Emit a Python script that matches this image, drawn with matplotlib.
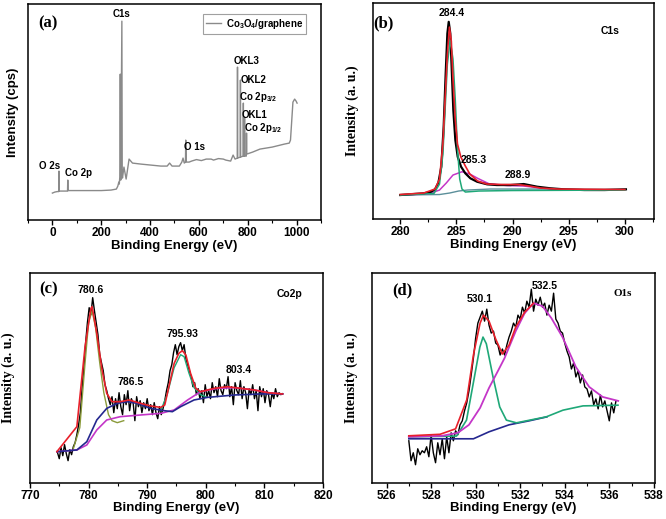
import numpy as np
import matplotlib
matplotlib.use("Agg")
import matplotlib.pyplot as plt
from matplotlib.ticker import MultipleLocator

plt.rcParams['font.family'] = ['Liberation Sans', 'DejaVu Sans']
plt.rcParams['mathtext.fontset'] = 'custom'
plt.rcParams['mathtext.bf'] = 'Liberation Sans:bold'
plt.rcParams['mathtext.rm'] = 'Liberation Sans:bold'
plt.rcParams['mathtext.default'] = 'bf'

# ---------------- (a) survey spectrum ----------------
a_energy = [0, 10, 20, 26, 27, 28, 50, 62, 63, 64, 100, 150, 200, 240, 262, 268, 272, 274, 276,
            278, 280, 284.5, 286, 287, 293, 302, 314, 328, 362, 403, 444, 470, 480, 490, 520,
            530, 535, 540, 545, 546, 548, 560, 570, 590, 600, 610, 630, 650, 660, 680, 700,
            710, 730, 740, 748, 757, 758, 759, 769, 770, 771, 781, 782, 783, 786, 787, 788,
            794, 795, 796, 820, 850, 900, 950, 970, 975, 985, 992, 998, 1002]
a_counts = [27, 28, 28.5, 28.5, 49, 29, 29, 29, 40, 29.5, 29.5, 29.5, 29.5, 30, 31, 34, 38, 36, 43,
            146, 40, 199, 45, 42, 53, 41, 61, 57, 56, 55, 54, 54, 57, 54, 54,
            58, 62, 57, 58, 80, 58, 58, 59, 60.5, 60, 59.5, 61, 61, 60, 61.5, 61,
            60, 59, 65, 61, 62, 153, 62, 63, 140, 63, 64, 117, 64, 64, 103, 64,
            64, 87, 66, 68, 71, 73, 76, 77, 80, 118, 121, 119, 117]

# ---------------- (b) C1s ----------------
b_energy = [280.0, 282.1, 282.7, 283.1, 283.4, 283.66, 283.87, 284.05, 284.2, 284.32, 284.46,
            284.58, 284.73, 284.91, 285.12, 285.42, 285.8, 286.25, 286.85, 287.74, 288.6,
            289.8, 291.0, 292.2, 293.4, 294.6, 296.4, 298.2, 300.1]
b_counts = [24, 25.7, 27, 29.7, 36.3, 52.3, 92.3, 145.7, 185.7, 197.3, 185.7,
            152.3, 109, 79, 62.3, 52.3, 45.7, 40.7, 37.3, 34.7, 34,
            34, 35, 32.3, 30.7, 29.7, 29, 29, 29.7]
b_fit_e = [280.0, 282.1, 283.1, 283.5, 283.8, 284.0, 284.2, 284.38, 284.55, 284.7, 284.9, 285.1,
           285.4, 285.8, 286.2, 286.9, 287.7, 289.0, 290.5, 291.5, 292.5, 294.0, 300.0]
b_fit = [24.5, 26, 30, 40, 75, 120, 165, 192, 178, 140, 100, 75,
         62, 53, 45, 38, 35, 34.5, 34.5, 33, 31, 30, 29.5]
b_p1_e = [280.0, 283.0, 283.5, 283.8, 284.0, 284.2, 284.45, 284.7, 284.9, 285.1, 285.3, 285.5,
          285.8, 287.0, 290.0, 300.0]
b_p1 = [24, 25.5, 35, 65, 110, 155, 179, 160, 120, 70, 40, 30, 27, 28, 28.5, 29]
b_p2_e = [280.0, 282.5, 283.5, 284.1, 284.7, 285.5, 286.2, 286.9, 287.9, 289.5, 291.0, 292.5, 293.5]
b_p2 = [24, 25, 29, 36, 44, 47.3, 45, 40.7, 35.3, 33.5, 33, 31, 30]
b_bg_e = [280.0, 283.5, 284.4, 285.2, 286.0, 288.0, 292.0, 300.0]
b_bg = [24, 24.5, 26, 28, 29, 30, 30, 29.5]

# ---------------- (c) Co2p ----------------
c_energy = np.round(774.7 + 0.3 * np.arange(129), 1)
c_counts = [30, 24, 35, 27, 38, 29, 22, 33, 28, 36,
            40, 48, 58, 70, 95, 115, 140, 160, 175, 168,
            185, 172, 160, 148, 128, 120, 112, 98, 92, 84,
            78, 86, 70, 84, 74, 90, 76, 68, 88, 78,
            92, 72, 84, 80, 62, 86, 76, 82, 70, 80,
            74, 84, 72, 78, 68, 80, 70, 64, 76, 68,
            74, 82, 92, 100, 112, 118, 130, 138, 128, 136,
            140, 132, 138, 124, 118, 112, 106, 96, 100, 88,
            94, 84, 92, 80, 98, 86, 92, 84, 100, 90,
            96, 86, 104, 92, 88, 98, 94, 106, 86, 96,
            78, 100, 92, 88, 102, 84, 96, 90, 74, 94,
            88, 98, 84, 92, 72, 96, 86, 94, 80, 92,
            88, 76, 90, 84, 94, 86, 90, 88, 89]
c_fit_e = [774.6, 778.0, 779.4, 780.4, 780.6, 781.4, 782.3, 783.1, 784.0, 785.4, 786.9, 788.9,
           790.6, 792.3, 793.0, 793.7, 794.6, 795.4, 796.0, 796.6, 797.4, 798.3, 799.1, 801.4,
           803.7, 806.0, 808.3, 810.6, 813.1]
c_fit = [31, 56, 136, 174.3, 176, 149.3, 112.7, 89.3, 81, 81, 82.7, 79.3,
         76.7, 75.3, 77.7, 96, 119.3, 129.3, 132, 127.7, 109.3, 94.3, 91, 94.3,
         96, 94.3, 92.7, 90, 88.7]
c_navy_e = [774.6, 778.0, 779.7, 781.4, 783.1, 784.9, 786.6, 788.3, 790.6, 792.9, 794.3, 795.7,
            798.0, 800.3, 804.9, 809.4, 813.1]
c_navy = [31, 32.7, 41, 62.7, 74.3, 79.3, 81, 79.3, 74.3, 72, 71, 76, 82.7, 85.3, 87.7, 88.7, 88.7]
c_mag_e = [774.6, 778.0, 779.7, 781.4, 783.1, 785.4, 788.9, 792.3, 794.6, 796.9, 799.1, 802.0,
           804.9, 808.3, 810.6, 813.1]
c_mag = [31, 32.7, 37.7, 52.7, 62.7, 66, 67.7, 69.3, 72.7, 82.7, 91, 94.3, 95, 92.7, 90, 88.7]
c_p1_e = [777.4, 778.5, 779.4, 780.0, 780.6, 781.2, 781.9, 782.6, 783.4, 784.0, 784.9, 786.0]
c_p1 = [34, 55, 120, 160, 172, 155, 120, 90, 68, 62, 60, 62]
c_p2_e = [792.3, 793.4, 794.6, 795.7, 796.3, 797.1, 798.0, 799.1, 800.0]
c_p2 = [72, 88, 115, 128, 126, 110, 95, 88, 86]

# ---------------- (d) O1s ----------------
d_energy = np.round(527.0 + 0.1 * np.arange(94), 1)
d_counts = [42, 22, 30, 18, 34, 28, 32, 30, 36, 26,
            48, 30, 20, 40, 28, 44, 24, 46, 30, 50,
            42, 52, 48, 58, 62, 72, 80, 92, 108, 125,
            145, 160, 166, 172, 162, 174, 158, 150, 152, 140,
            138, 128, 134, 128, 138, 146, 152, 160, 156, 168,
            164, 176, 170, 182, 176, 194, 172, 184, 178, 186,
            176, 180, 168, 178, 172, 190, 164, 160, 152, 150,
            140, 132, 126, 114, 120, 106, 112, 100, 108, 96,
            94, 86, 92, 78, 84, 74, 88, 76, 82, 72,
            62, 80, 70, 82]
d_fit_e = [527.0, 528.4, 529.1, 529.6, 529.9, 530.2, 530.35, 530.6, 530.9, 531.2, 531.5,
           531.8, 532.2, 532.6]
d_fit = [47, 48.5, 54, 83, 128, 160, 168, 162, 144, 129, 138, 156, 171, 180]
d_mag_e = [527.0, 528.5, 529.2, 529.7, 530.2, 530.6, 531.0, 531.3, 531.8, 532.2, 532.6, 533.0,
           533.4, 533.9, 534.5, 535.1, 535.7, 536.4]
d_mag = [46, 47, 50, 58, 75, 95, 112, 125, 152, 170, 180, 177, 165, 146, 116, 96, 86, 82]
d_grn_e = [527.0, 529.14, 529.59, 529.89, 530.19, 530.33, 530.48, 530.78, 531.08, 531.38,
           531.83, 532.43, 533.17, 533.92, 534.82, 536.39]
d_grn = [46, 46.7, 62.7, 99.3, 136, 146, 139.3, 106, 76, 62.7, 60, 62.7, 66, 72.7, 77, 77.7]
d_navy_e = [527.0, 528.7, 529.9, 530.6, 531.5, 532.4, 533.2]
d_navy = [44, 44, 44, 51, 58, 62, 66]

RED = '#e8202a'
MAG = '#c436c8'
NAVY = '#25288f'
GRN = '#1fa878'

fig = plt.figure(figsize=(6.66, 5.19), dpi=100)
ax_a = fig.add_axes([0.042, 0.576, 0.44, 0.416])
ax_b = fig.add_axes([0.5596, 0.578, 0.4224, 0.416])
ax_c = fig.add_axes([0.045, 0.070, 0.44, 0.4046])
ax_d = fig.add_axes([0.558, 0.070, 0.4254, 0.4035])

serif_bold = dict(family=['Liberation Serif', 'DejaVu Serif'], weight='bold')


def style(ax, major, minor, ylab, ylab_x, serif_ylab):
    ax.xaxis.set_major_locator(MultipleLocator(major))
    ax.xaxis.set_minor_locator(MultipleLocator(minor))
    ax.set_yticks([])
    ax.tick_params(axis='x', which='major', direction='out', length=3.5, width=1,
                   labelsize=8.5, pad=1.5)
    ax.tick_params(axis='x', which='minor', direction='out', length=2, width=0.8)
    for lab in ax.get_xticklabels():
        lab.set_fontweight('bold')
    for sp in ax.spines.values():
        sp.set_linewidth(1.1)
    ax.set_xlabel('Binding Energy (eV)', fontsize=9.5, fontweight='bold', labelpad=0.5)
    if serif_ylab:
        ax.set_ylabel(ylab, fontsize=10, **serif_bold)
    else:
        ax.set_ylabel(ylab, fontsize=9.5, fontweight='bold')
    # label coords give the right edge of the rotated label
    ax.yaxis.set_label_coords(ylab_x, 0.5)


# (a)
ax_a.plot(a_energy, a_counts, color='#8a8a8a', lw=1.0, label=r'Co$_3$O$_4$/graphene')
ax_a.set_xlim(-100, 1100)
ax_a.set_ylim(0, 216)
style(ax_a, 200, 100, 'Intensity (cps)', -0.029, False)
leg = ax_a.legend(loc='upper right', bbox_to_anchor=(0.95, 0.955), borderaxespad=0,
                  fancybox=False, edgecolor='#888888', prop={'weight': 'bold', 'size': 7},
                  handlelength=1.6, handletextpad=0.5, borderpad=0.3)
leg.get_frame().set_linewidth(0.8)
ax_a.text(0.068, 0.91, '(a)', transform=ax_a.transAxes, fontsize=12, ha='center', va='center',
          **serif_bold)
a_notes = [('C1s', 285, 206), ('O 2s', -12, 54), ('Co 2p', 107, 47), ('O 1s', 581, 73),
           ('OKL3', 797, 159), ('OKL2', 822, 140), (r'Co 2p$_{3/2}$', 842, 123),
           ('OKL1', 828, 105), (r'Co 2p$_{1/2}$', 865, 92)]
for t, x, y in a_notes:
    ax_a.text(x, y, t, fontsize=7, fontweight='bold', ha='center', va='center')

# (b)
ax_b.plot(b_bg_e, b_bg, color='#5b8f9a', lw=1.0)
ax_b.plot(b_p2_e, b_p2, color=MAG, lw=1.1)
ax_b.plot(b_energy, b_counts, color='black', lw=1.6)
ax_b.plot(b_p1_e, b_p1, color=GRN, lw=1.1)
ax_b.plot(b_fit_e, b_fit, color=RED, lw=1.2)
ax_b.set_xlim(277.55, 302.6)
ax_b.set_ylim(0, 216)
style(ax_b, 5, 2.5, 'Intensity (a. u.)', -0.049, True)
ax_b.text(0.038, 0.906, '(b)', transform=ax_b.transAxes, fontsize=12, ha='center', va='center',
          **serif_bold)
for t, x, y in [('284.4', 284.6, 206), ('285.3', 286.5, 59), ('288.9', 290.5, 44), ('C1s', 298.7, 188)]:
    ax_b.text(x, y, t, fontsize=7.5, fontweight='bold', ha='center', va='center')

# (c)
ax_c.plot(c_energy, c_counts, color='black', lw=1.0)
ax_c.plot(c_p1_e, c_p1, color='#8a9a3a', lw=1.0)
ax_c.plot(c_p2_e, c_p2, color=GRN, lw=1.0)
ax_c.plot(c_mag_e, c_mag, color=MAG, lw=1.2)
ax_c.plot(c_navy_e, c_navy, color=NAVY, lw=1.2)
ax_c.plot(c_fit_e, c_fit, color=RED, lw=1.2)
ax_c.set_xlim(770, 820)
ax_c.set_ylim(0, 210)
style(ax_c, 10, 5, 'Intensity (a. u.)', -0.051, True)
ax_c.text(0.063, 0.92, '(c)', transform=ax_c.transAxes, fontsize=12, ha='center', va='center',
          **serif_bold)
for t, x, y in [('780.6', 780.3, 192.7), ('786.5', 787.1, 101), ('795.93', 796.0, 148.7),
                ('803.4', 805.6, 113), ('Co2p', 814.3, 188.7)]:
    ax_c.text(x, y, t, fontsize=7.5, fontweight='bold', ha='center', va='center')

# (d)
ax_d.plot(d_energy, d_counts, color='black', lw=1.0)
ax_d.plot(d_navy_e, d_navy, color=NAVY, lw=1.2)
ax_d.plot(d_grn_e, d_grn, color=GRN, lw=1.2)
ax_d.plot(d_mag_e, d_mag, color=MAG, lw=1.3)
ax_d.plot(d_fit_e, d_fit, color=RED, lw=1.2)
ax_d.set_xlim(525.33, 538.05)
ax_d.set_ylim(0, 210)
style(ax_d, 2, 1, 'Intensity (a. u.)', -0.048, True)
ax_d.text(0.11, 0.92, '(d)', transform=ax_d.transAxes, fontsize=12, ha='center', va='center',
          **serif_bold)
for t, x, y in [('530.1', 530.19, 184.3), ('532.5', 533.1, 197.7)]:
    ax_d.text(x, y, t, fontsize=7.5, fontweight='bold', ha='center', va='center')
ax_d.text(536.6, 189.3, 'O1s', fontsize=8, ha='center', va='center', **serif_bold)

fig.savefig('out.png', dpi=100)
